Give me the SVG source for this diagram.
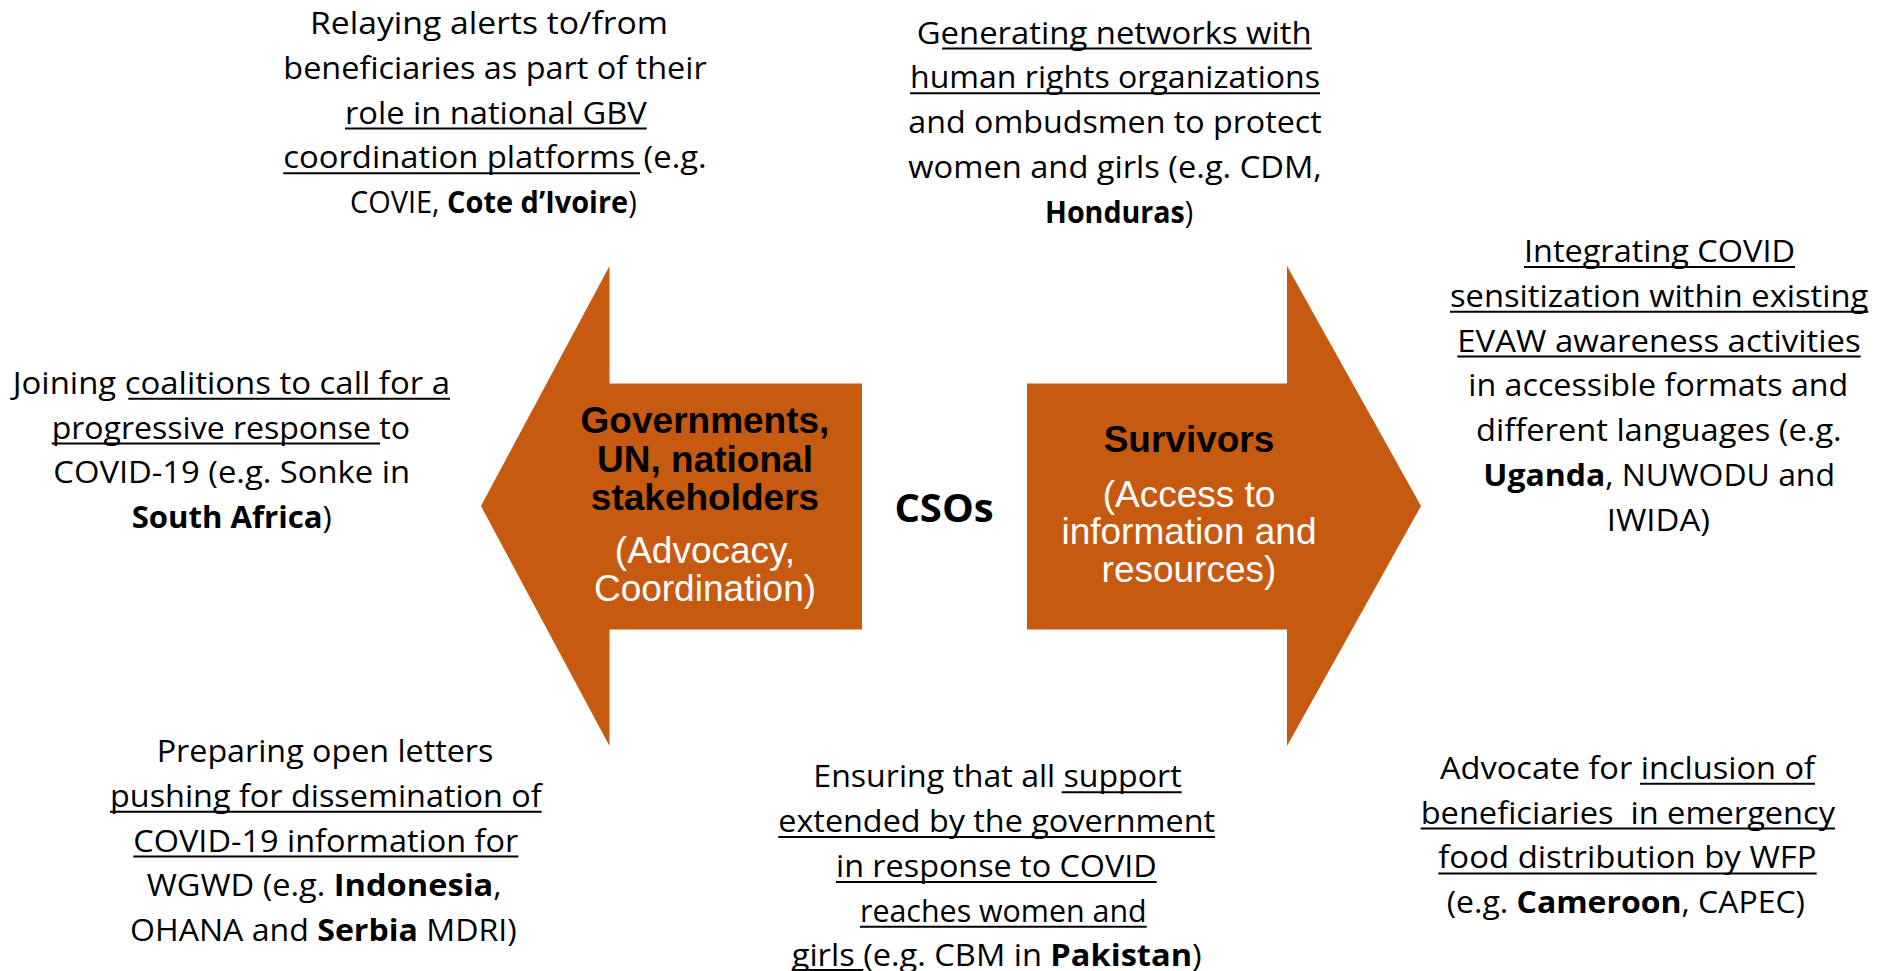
<svg xmlns="http://www.w3.org/2000/svg" width="1887" height="971" viewBox="0 0 1887 971">
  <style>
    .bg { fill: #ffffff; }
    .arrow { fill: #C65A11; }
    .desc { font-family: "Open Sans", "Noto Sans", "Liberation Sans", sans-serif; font-size: 31px; fill: #000000; white-space: pre; }
    .ul { stroke: #000000; stroke-width: 2; }
    .b { font-weight: 700; }
    .head { font-family: "Liberation Sans", Arial, sans-serif; font-size: 37px; font-weight: 700; fill: #000000; text-anchor: middle; }
    .sub { font-family: "Liberation Sans", Arial, sans-serif; font-size: 37px; fill: #ffffff; text-anchor: middle; }
    .center { font-family: "Open Sans", "Noto Sans", "Liberation Sans", sans-serif; font-size: 40px; font-weight: 700; fill: #000000; text-anchor: middle; }
  </style>

  <rect class="bg" x="0" y="0" width="1887" height="971"/>

  <!-- Left-pointing arrow: governments, UN, national stakeholders -->
  <g id="governments">
    <polygon class="arrow" points="481,506 609.5,266 609.5,383.5 862,383.5 862,629.5 609.5,629.5 609.5,746"/>
    <text class="head" x="705" y="433">Governments,</text>
    <text class="head" x="705" y="471.5">UN, national</text>
    <text class="head" x="705" y="509.5">stakeholders</text>
    <text class="sub" x="705" y="563">(Advocacy,</text>
    <text class="sub" x="705" y="600.5">Coordination)</text>
  </g>

  <!-- Right-pointing arrow: survivors -->
  <g id="survivors">
    <polygon class="arrow" points="1027,383.5 1287,383.5 1287,266 1421,506 1287,746 1287,629.5 1027,629.5"/>
    <text class="head" x="1189" y="451.5">Survivors</text>
    <text class="sub" x="1189" y="506.5">(Access to</text>
    <text class="sub" x="1189" y="544">information and</text>
    <text class="sub" x="1189" y="581.5">resources)</text>
  </g>

  <!-- Central actor -->
  <g id="csos">
    <text class="center" x="944" y="521.5">CSOs</text>
  </g>

  <!-- Each note: one text per line, with underlines drawn as rules below the baseline -->
  <g id="relaying-alerts">
    <text class="desc" x="310" y="33.9" textLength="358" lengthAdjust="spacingAndGlyphs">Relaying alerts to/from</text>
    <text class="desc" x="283.3" y="78.7" textLength="423.4" lengthAdjust="spacingAndGlyphs">beneficiaries as part of their</text>
    <text class="desc" x="345" y="123.5" textLength="301.7" lengthAdjust="spacingAndGlyphs">role in national GBV</text>
    <text class="desc" x="283.3" y="168.3" textLength="423.4" lengthAdjust="spacingAndGlyphs">coordination platforms (e.g.</text>
    <text class="desc" x="350" y="213.1" textLength="286.7" lengthAdjust="spacingAndGlyphs">COVIE, <tspan class="b">Cote d’Ivoire</tspan>)</text>
    <line class="ul" x1="345" y1="128.5" x2="646.7" y2="128.5"/>
    <line class="ul" x1="283.3" y1="173.3" x2="640" y2="173.3"/>
  </g>

  <g id="generating-networks">
    <text class="desc" x="916.7" y="43.5" textLength="395" lengthAdjust="spacingAndGlyphs">Generating networks with</text>
    <text class="desc" x="910" y="88.3" textLength="410" lengthAdjust="spacingAndGlyphs">human rights organizations</text>
    <text class="desc" x="908.3" y="133.1" textLength="413.4" lengthAdjust="spacingAndGlyphs">and ombudsmen to protect</text>
    <text class="desc" x="908.3" y="177.9" textLength="413.4" lengthAdjust="spacingAndGlyphs">women and girls (e.g. CDM,</text>
    <text class="desc" x="1045" y="222.7" textLength="148.3" lengthAdjust="spacingAndGlyphs"><tspan class="b">Honduras</tspan>)</text>
    <line class="ul" x1="942" y1="48.5" x2="1311.7" y2="48.5"/>
    <line class="ul" x1="910" y1="93.3" x2="1320" y2="93.3"/>
  </g>

  <g id="integrating-covid">
    <text class="desc" x="1524" y="262" textLength="271" lengthAdjust="spacingAndGlyphs">Integrating COVID</text>
    <text class="desc" x="1450" y="306.8" textLength="418.3" lengthAdjust="spacingAndGlyphs">sensitization within existing</text>
    <text class="desc" x="1457.3" y="351.6" textLength="403.4" lengthAdjust="spacingAndGlyphs">EVAW awareness activities</text>
    <text class="desc" x="1468.3" y="396.4" textLength="380" lengthAdjust="spacingAndGlyphs">in accessible formats and</text>
    <text class="desc" x="1476" y="441.2" textLength="365.7" lengthAdjust="spacingAndGlyphs">different languages (e.g.</text>
    <text class="desc" x="1483.3" y="486" textLength="351.7" lengthAdjust="spacingAndGlyphs"><tspan class="b">Uganda</tspan>, NUWODU and</text>
    <text class="desc" x="1606.7" y="530.8" textLength="103.3" lengthAdjust="spacingAndGlyphs">IWIDA)</text>
    <line class="ul" x1="1524" y1="267" x2="1795" y2="267"/>
    <line class="ul" x1="1450" y1="311.8" x2="1868.3" y2="311.8"/>
    <line class="ul" x1="1457.3" y1="356.6" x2="1860.7" y2="356.6"/>
  </g>

  <g id="joining-coalitions">
    <text class="desc" x="12.7" y="393.7" textLength="437.3" lengthAdjust="spacingAndGlyphs">Joining coalitions to call for a</text>
    <text class="desc" x="51.7" y="438.5" textLength="358.3" lengthAdjust="spacingAndGlyphs">progressive response to</text>
    <text class="desc" x="53.3" y="483.3" textLength="356.7" lengthAdjust="spacingAndGlyphs">COVID-19 (e.g. Sonke in</text>
    <text class="desc" x="131.7" y="528.1" textLength="200" lengthAdjust="spacingAndGlyphs"><tspan class="b">South Africa</tspan>)</text>
    <line class="ul" x1="128.3" y1="398.7" x2="450" y2="398.7"/>
    <line class="ul" x1="51.7" y1="443.5" x2="380" y2="443.5"/>
  </g>

  <g id="open-letters">
    <text class="desc" x="156.7" y="762" textLength="336.7" lengthAdjust="spacingAndGlyphs">Preparing open letters</text>
    <text class="desc" x="110" y="806.8" textLength="431.7" lengthAdjust="spacingAndGlyphs">pushing for dissemination of</text>
    <text class="desc" x="133.3" y="851.6" textLength="385" lengthAdjust="spacingAndGlyphs">COVID-19 information for</text>
    <text class="desc" x="146.7" y="896.4" textLength="355" lengthAdjust="spacingAndGlyphs">WGWD (e.g. <tspan class="b">Indonesia</tspan>,</text>
    <text class="desc" x="130" y="941.2" textLength="386.7" lengthAdjust="spacingAndGlyphs">OHANA and <tspan class="b">Serbia</tspan> MDRI)</text>
    <line class="ul" x1="110" y1="811.8" x2="541.7" y2="811.8"/>
    <line class="ul" x1="133.3" y1="856.6" x2="518.3" y2="856.6"/>
  </g>

  <g id="government-support">
    <text class="desc" x="813.3" y="787.3" textLength="368.3" lengthAdjust="spacingAndGlyphs">Ensuring that all support</text>
    <text class="desc" x="778.3" y="832.1" textLength="436.7" lengthAdjust="spacingAndGlyphs">extended by the government</text>
    <text class="desc" x="836" y="876.9" textLength="320.7" lengthAdjust="spacingAndGlyphs">in response to COVID</text>
    <text class="desc" x="860" y="921.7" textLength="286.7" lengthAdjust="spacingAndGlyphs">reaches women and</text>
    <text class="desc" x="791.7" y="965.5" textLength="410" lengthAdjust="spacingAndGlyphs">girls (e.g. CBM in <tspan class="b">Pakistan</tspan>)</text>
    <line class="ul" x1="1061.7" y1="792.3" x2="1181.7" y2="792.3"/>
    <line class="ul" x1="778.3" y1="837.1" x2="1215" y2="837.1"/>
    <line class="ul" x1="836" y1="881.9" x2="1156.7" y2="881.9"/>
    <line class="ul" x1="860" y1="926.7" x2="1146.7" y2="926.7"/>
    <line class="ul" x1="791.7" y1="970" x2="863.3" y2="970"/>
  </g>

  <g id="food-distribution">
    <text class="desc" x="1440" y="778.8" textLength="375" lengthAdjust="spacingAndGlyphs">Advocate for inclusion of</text>
    <text class="desc" x="1420.7" y="823.6" textLength="414.3" lengthAdjust="spacingAndGlyphs">beneficiaries  in emergency</text>
    <text class="desc" x="1438.3" y="868.4" textLength="378.3" lengthAdjust="spacingAndGlyphs">food distribution by WFP</text>
    <text class="desc" x="1446.7" y="913.2" textLength="358.3" lengthAdjust="spacingAndGlyphs">(e.g. <tspan class="b">Cameroon</tspan>, CAPEC)</text>
    <line class="ul" x1="1640" y1="783.8" x2="1815" y2="783.8"/>
    <line class="ul" x1="1420.7" y1="828.6" x2="1835" y2="828.6"/>
    <line class="ul" x1="1438.3" y1="873.4" x2="1816.7" y2="873.4"/>
  </g>
</svg>
